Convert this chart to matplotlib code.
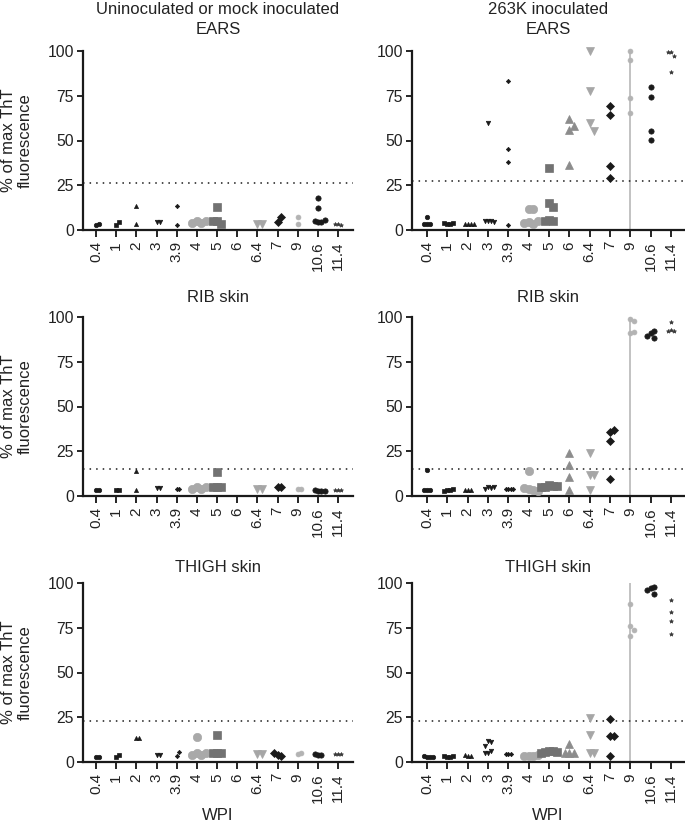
import numpy as np
import matplotlib
matplotlib.use("Agg")
import matplotlib.pyplot as plt

plt.rcParams['font.family'] = ['Liberation Sans', 'DejaVu Sans']

categories = ['0.4', '1', '2', '3', '3.9', '4', '5', '6', '6.4', '7', '9', '10.6', '11.4']

# Uninoculated / mock
ears_mock = [[3, 3.5], [3, 4.5], [13.5, 3.5], [4.5, 4.5], [13.5, 3], [5, 4, 4, 5], [13, 5, 3.5, 5], [],
             [3.5, 3.5], [4.5, 7], [7.5, 3.5], [18, 12.5, 4.5, 4.5, 5, 5.5], [3.5, 3, 3.5]]
rib_mock = [[3.5, 3.5], [3.5, 3.5], [14, 3.5], [4.5, 4.5], [4, 4], [5, 4, 4, 5], [13.5, 5, 5, 5], [],
            [4, 4], [5, 5], [4, 4], [3, 3, 3.5, 3], [3.5, 3.5, 3.5]]
thigh_mock = [[3, 3], [3, 4], [13.5, 13.5], [4, 4], [3.5, 5.5], [14, 5, 4, 4, 5], [15, 5, 5, 5], [],
              [4.5, 4.5], [4, 3.5, 5], [4.5, 5], [4, 4, 4.5], [4.5, 4.5, 4.5]]

# 263K inoculated
ears_263k = [[7, 3.5, 3.5, 3.5], [3.5, 3.5, 4, 4], [3.5, 3.5, 3.5, 3.5], [60, 5, 5, 5, 4.5],
             [83, 45.5, 38, 3], [12, 11.5, 4.5, 3.5, 4, 5], [34.5, 15, 13, 5.5, 5, 5], [62, 58, 56, 36.5],
             [100, 77.5, 60, 55.5], [69.5, 64.5, 36, 29], [100, 95, 74, 65.5], [80, 74.5, 55.5, 50.5],
             [99.5, 97, 99.5, 88.5]]
rib_263k = [[14.5, 3.5, 3.5, 3.5], [3.5, 3.5, 3, 4], [3.5, 3.5, 3.5], [5, 4.5, 4, 5], [4, 4, 4, 4],
            [14, 4, 3.5, 4.5, 3], [6, 5.5, 5, 5.5, 5], [24, 17.5, 10.5, 3.5], [24, 12, 12, 3.5],
            [35.5, 37, 31, 9.5], [99, 98, 91, 91.5], [91, 92, 88.5, 89.5], [97, 93, 92, 92]]
thigh_263k = [[3, 3, 3.5, 3], [3, 3, 3.5, 3.5], [3.5, 3.5, 4], [11.5, 11, 9, 5, 6, 5], [4.5, 4.5, 4.5],
              [3.5, 3.5, 3.5, 4], [6, 6, 5.5, 5.5, 5], [10, 5, 5, 5], [24.5, 15, 5, 5],
              [24, 14.5, 14.5, 3.5], [88, 76, 73.5, 70.5], [97, 97.5, 96, 94], [90.5, 84, 78.5, 71.5]]

thresholds_mock = [26.5, 15, 23]
thresholds_263k = [27.5, 15, 23]
tissues = ['EARS', 'RIB skin', 'THIGH skin']

# marker styles per category
styles = [
    dict(marker='o', color='#1a1a1a', ms=3.2),
    dict(marker='s', color='#1a1a1a', ms=3.2),
    dict(marker='^', color='#1a1a1a', ms=3.0),
    dict(marker='v', color='#1a1a1a', ms=3.2),
    dict(marker='D', color='#1a1a1a', ms=2.2),
    dict(marker='o', color='#a9a9a9', ms=6.0),
    dict(marker='s', color='#727272', ms=5.2),
    dict(marker='^', color='#8c8c8c', ms=6.0),
    dict(marker='v', color='#a6a6a6', ms=6.2),
    dict(marker='D', color='#1a1a1a', ms=4.5),
    dict(marker='o', color='#b3b3b3', ms=3.5),
    dict(marker='o', color='#1a1a1a', ms=3.8),
    dict(marker='*', color='#3a3a3a', ms=3.0),
]

TICK_FS = 11.3
XT_FS = 11
TITLE_FS = 12
TXT = '#222222'


def swarm_offsets(vals, ytol, step):
    vals = np.asarray(vals, dtype=float)
    offs = np.zeros(len(vals))
    placed = []
    cands = [0]
    for j in range(1, 10):
        cands += [j, -j]
    for i, v in enumerate(vals):
        k = 0
        for c in cands:
            if all(not (abs(pv - v) < ytol and pc == c) for (pv, pc) in placed):
                k = c
                break
        placed.append((v, k))
        offs[i] = k * step
    return offs


def draw_panel(ax, data, thr, vline):
    x = np.arange(len(categories))
    for i, vals in enumerate(data):
        if len(vals) == 0:
            continue
        st = styles[i]
        ytol = 1.2 + st['ms'] * 0.55
        offs = swarm_offsets(vals, ytol, 0.07 + st['ms'] * 0.025)
        ax.plot(x[i] + offs, vals, linestyle='none', marker=st['marker'], color=st['color'],
                markersize=st['ms'], markeredgewidth=0.5, markeredgecolor=st['color'],
                clip_on=False, zorder=3)
    if vline:
        ax.axvline(x[10], ymin=0, ymax=1, color='#bdbdbd', lw=1.3, zorder=1)
    ax.axhline(thr, color='#1a1a1a', lw=1.1, linestyle=(0, (1, 3.3)), zorder=2)
    ax.set_ylim(0, 100)
    ax.set_yticks([0, 25, 50, 75, 100])
    ax.set_xticks(x)
    ax.set_xticklabels(categories, rotation=90, fontsize=XT_FS, color=TXT)
    ax.tick_params(axis='y', labelsize=TICK_FS, labelcolor=TXT, width=1.2, length=4, pad=2.5)
    ax.tick_params(axis='x', width=1.2, length=5, pad=3)
    for s in ['top', 'right']:
        ax.spines[s].set_visible(False)
    for s in ['left', 'bottom']:
        ax.spines[s].set_linewidth(1.6)
        ax.spines[s].set_color('#1a1a1a')


fig = plt.figure(figsize=(6.85, 8.31), dpi=100)
W, H = 685.0, 831.0
left_box = (83, 353)
right_box = (412, 685)
y0s = [230, 496, 762]
title_ys = [30, 298, 567]
ah = 179

all_mock = [ears_mock, rib_mock, thigh_mock]
all_263k = [ears_263k, rib_263k, thigh_263k]

for r in range(3):
    for c in range(2):
        xb = left_box if c == 0 else right_box
        ax = fig.add_axes([xb[0] / W, (H - y0s[r]) / H, (xb[1] - xb[0]) / W, ah / H])
        if c == 0:
            draw_panel(ax, all_mock[r], thresholds_mock[r], False)
            ax.set_xlim(-0.645, 12.74)
            fig.text(17 / W, 1 - (y0s[r] - ah / 2) / H, '% of max ThT\nfluorescence', rotation=90,
                     ha='center', va='center', fontsize=TITLE_FS, color=TXT, linespacing=1.2)
            cx = 218
        else:
            draw_panel(ax, all_263k[r], thresholds_263k[r], True)
            ax.set_xlim(-0.74, 12.69)
            cx = 548
        fig.text(cx / W, 1 - title_ys[r] / H, tissues[r], ha='center', va='center',
                 fontsize=TITLE_FS, color=TXT)
        if r == 2:
            fig.text(cx / W, 1 - 815 / H, 'WPI', ha='center', va='center',
                     fontsize=TITLE_FS, color=TXT)

fig.text(218 / W, 1 - 10 / H, 'Uninoculated or mock inoculated', ha='center', va='center',
         fontsize=TITLE_FS, color=TXT)
fig.text(548 / W, 1 - 10 / H, '263K inoculated', ha='center', va='center',
         fontsize=TITLE_FS, color=TXT)

fig.savefig('out.png', dpi=100)
